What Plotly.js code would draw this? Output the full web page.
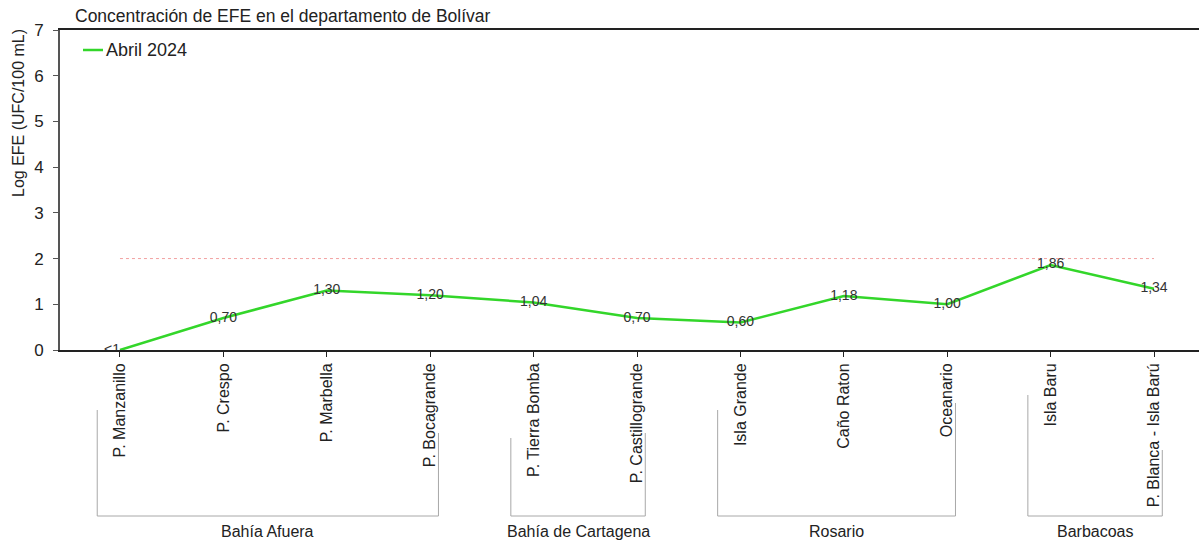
<!DOCTYPE html>
<html>
<head>
<meta charset="utf-8">
<script src="https://cdn.plot.ly/plotly-3.0.1.min.js"></script>
<style>html,body{margin:0;padding:0;background:#fff;}#chart{width:1199px;height:542px;}</style>
</head>
<body>
<div id="chart"></div>
<script>
// ---- data ----
const stations = ['P. Manzanillo','P. Crespo','P. Marbella','P. Bocagrande','P. Tierra Bomba','P. Castillogrande','Isla Grande','Caño Raton','Oceanario','Isla Baru','P. Blanca - Isla Barú'];
const abril2024 = [0, 0.70, 1.30, 1.20, 1.04, 0.70, 0.60, 1.18, 1.00, 1.86, 1.34];
const pointLabels = ['<1','0,70','1,30','1,20','1,04','0,70','0,60','1,18','1,00','1,86','1,34'];
const limitValue = [2, 2, 2, 2, 2, 2, 2, 2, 2, 2, 2];
const groups = ['Bahía Afuera','Bahía de Cartagena','Rosario','Barbacoas'];
const groupFirst = [0, 4, 6, 9];
const groupLast = [3, 5, 8, 10];
const yTicks = [0,1,2,3,4,5,6,7];
const seriesName = 'Abril 2024';

// ---- layout helpers (positions, not data) ----
const idx = stations.map((_, i) => i);
const bracketLeftTop = [410, 438, 410, 395];
const bracketRightTop = [433, 433, 403, 450];
const plotTop = 30, plotBottom = 350, plotLeft = 60, plotW = 1139;
const py = p => (plotBottom - p) / (plotBottom - plotTop);
const px = p => (p - plotLeft) / plotW;
const bracketBottom = py(516);
const green = '#33d62a';

const shapes = [];
const annotations = [];
groups.forEach((g, k) => {
  const x0 = groupFirst[k] - 0.22, x1 = groupLast[k] + 0.08;
  const line = {color: '#a8a8a8', width: 1};
  shapes.push({type: 'line', xref: 'x', yref: 'paper', x0: x0, x1: x0, y0: py(bracketLeftTop[k]), y1: bracketBottom, line});
  shapes.push({type: 'line', xref: 'x', yref: 'paper', x0: x1, x1: x1, y0: py(bracketRightTop[k]), y1: bracketBottom, line});
  shapes.push({type: 'line', xref: 'x', yref: 'paper', x0: x0, x1: x1, y0: bracketBottom, y1: bracketBottom, line});
  annotations.push({xref: 'x', yref: 'paper', x: (x0 + x1) / 2, y: py(531), text: g, showarrow: false,
    xanchor: 'center', yanchor: 'middle', font: {size: 16, color: '#222'}});
});
annotations.push({xref: 'paper', yref: 'paper', x: px(18), y: py(113), text: 'Log EFE (UFC/100 mL)',
  textangle: -90, showarrow: false, xanchor: 'center', yanchor: 'middle', font: {size: 16, color: '#222'}});
// legend (drawn manually to match the compact swatch)
shapes.push({type: 'line', xref: 'paper', yref: 'paper', x0: px(83), x1: px(103), y0: py(50), y1: py(50),
  line: {color: green, width: 2.5}});
annotations.push({xref: 'paper', yref: 'paper', x: px(104), y: py(50), text: seriesName, showarrow: false,
  xanchor: 'left', yanchor: 'middle', font: {size: 18, color: '#222'}});

const traces = [
  {
    x: idx, y: limitValue, mode: 'lines', showlegend: false, hoverinfo: 'skip',
    line: {color: '#f2a0a0', width: 1, dash: 'dot'}
  },
  {
    x: idx, y: abril2024, name: seriesName, mode: 'lines+text', showlegend: false,
    text: pointLabels,
    textposition: pointLabels.map((t, i) => i === 0 ? 'middle left' : 'middle center'),
    textfont: {size: 14, color: '#333'},
    line: {color: green, width: 2.5}
  }
];

const layout = {
  width: 1199, height: 542,
  margin: {l: plotLeft, r: 0, t: plotTop, b: 542 - plotBottom, pad: 0},
  paper_bgcolor: '#fff', plot_bgcolor: '#fff',
  font: {family: 'Liberation Sans, Arial, sans-serif', color: '#222'},
  title: {text: 'Concentración de EFE en el departamento de Bolívar', x: 75 / 1199, xanchor: 'left',
    y: 1 - 16 / 542, yanchor: 'middle', font: {size: 17.5, color: '#222'}},
  xaxis: {
    range: [-0.58, 10.435], tickmode: 'array', tickvals: idx, ticktext: stations, tickangle: -90,
    ticks: 'outside', ticklen: 5, tickcolor: '#222', tickfont: {size: 16, color: '#222'},
    showline: true, linecolor: '#222', linewidth: 2, mirror: true, showgrid: false, zeroline: false,
    fixedrange: true
  },
  yaxis: {
    range: [0, 7], tickvals: yTicks, ticks: 'outside', ticklen: 5, tickcolor: '#555',
    tickfont: {size: 17, color: '#222'}, showline: true, linecolor: '#555', linewidth: 2,
    showgrid: false, zeroline: false, ticklabelstandoff: 6, fixedrange: true
  },
  showlegend: false,
  shapes: shapes,
  annotations: annotations
};

Plotly.newPlot('chart', traces, layout, {displayModeBar: false, staticPlot: true});
</script>
</body>
</html>
